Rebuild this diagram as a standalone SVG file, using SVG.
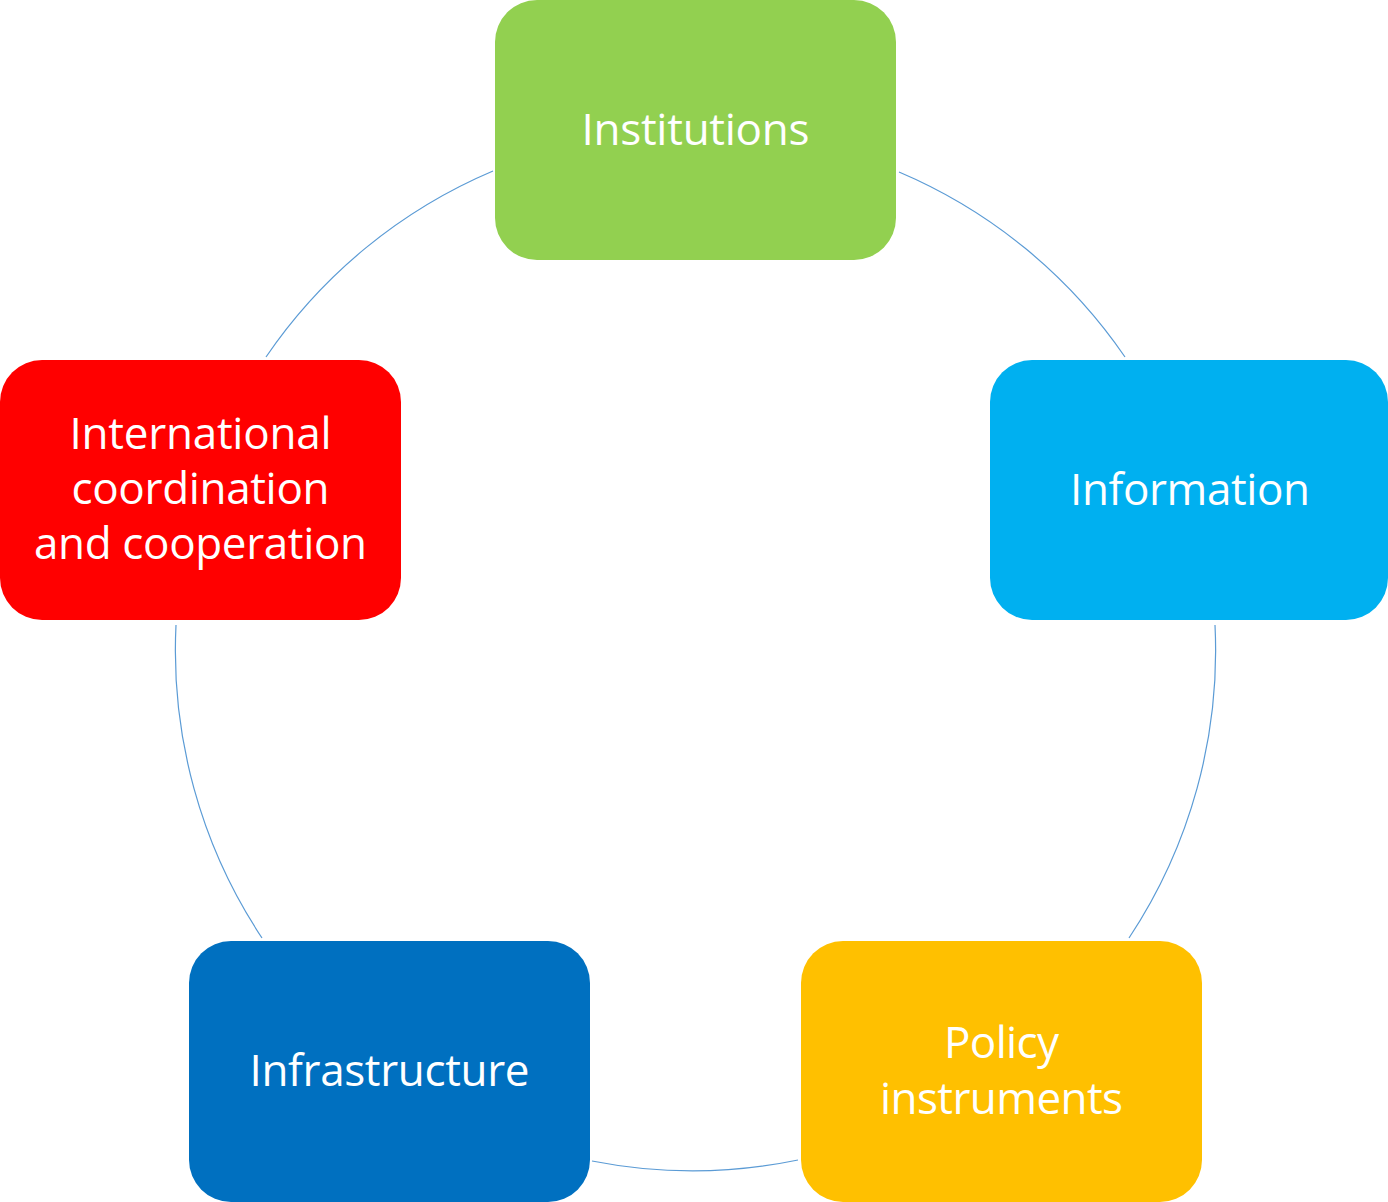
<svg xmlns="http://www.w3.org/2000/svg" width="1388" height="1202" viewBox="0 0 1388 1202">
<style>
.box{stroke:none}
.lbl{font-family:"Open Sans","Liberation Sans",sans-serif;font-size:44px;fill:#FFFFFF;text-anchor:middle}
.arc{fill:none;stroke:#5B9BD5;stroke-width:1.2}
</style>
<rect width="1388" height="1202" fill="#FFFFFF"/>
<g id="connectors">
<path class="arc" d="M899,172 A520,520 0 0 1 1125,357"/>
<path class="arc" d="M1215,625 A520,520 0 0 1 1129,938"/>
<path class="arc" d="M798,1160 A520,520 0 0 1 592,1161"/>
<path class="arc" d="M262,938 A520,520 0 0 1 176,625"/>
<path class="arc" d="M266,357 A520,520 0 0 1 493,171"/>
</g>
<g id="node-institutions">
<rect class="box" x="495" y="0" width="401" height="260" rx="42" fill="#92D050"/>
<text class="lbl" x="695.5" y="145" textLength="228">Institutions</text>
</g>
<g id="node-information">
<rect class="box" x="990" y="360" width="398" height="260" rx="42" fill="#00B0F0"/>
<text class="lbl" x="1190" y="505" textLength="240">Information</text>
</g>
<g id="node-policy">
<rect class="box" x="801" y="941" width="401" height="261" rx="42" fill="#FFC000"/>
<text class="lbl" x="1001.5" y="1058" textLength="115">Policy</text>
<text class="lbl" x="1001.5" y="1114" textLength="243">instruments</text>
</g>
<g id="node-infrastructure">
<rect class="box" x="189" y="941" width="401" height="261" rx="42" fill="#0070C0"/>
<text class="lbl" x="389.5" y="1086" textLength="280">Infrastructure</text>
</g>
<g id="node-international">
<rect class="box" x="0" y="360" width="401" height="260" rx="42" fill="#FF0000"/>
<text class="lbl" x="200.5" y="449" textLength="262">International</text>
<text class="lbl" x="200.5" y="504" textLength="258">coordination</text>
<text class="lbl" x="200.5" y="559" textLength="333">and cooperation</text>
</g>
</svg>
